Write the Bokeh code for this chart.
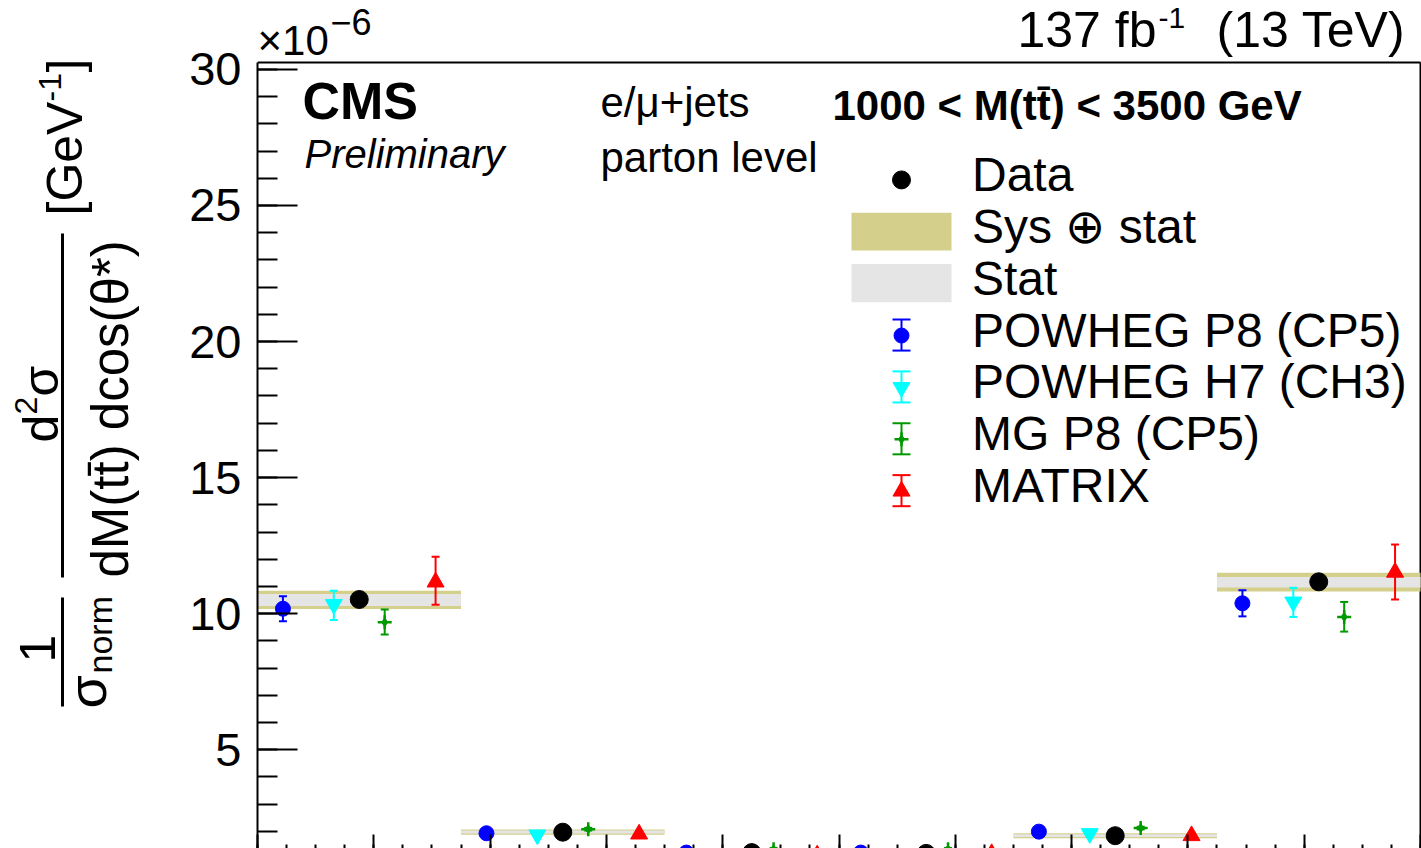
import numpy as np
from bokeh.plotting import figure
from bokeh.models import Range1d, SingleIntervalTicker, Label, CustomJSTickFormatter
from bokeh.layouts import row
from bokeh.embed import file_html
from bokeh.resources import INLINE
from bokeh.core.properties import value

FONT = "Liberation Sans"

# ---------------- data ----------------
bin_edges = [-1.0, -0.65, -0.3, 0.0, 0.3, 0.65, 1.0]

data_val = [10.52, 1.97, 1.22, 1.19, 1.84, 11.17]
sys_lo = [10.17, 1.88, 1.14, 1.12, 1.75, 10.81]
sys_hi = [10.84, 2.07, 1.28, 1.26, 1.93, 11.50]
stat_lo = [10.28, 1.92, 1.17, 1.15, 1.79, 10.96]
stat_hi = [10.72, 2.03, 1.26, 1.23, 1.89, 11.35]

powheg_p8 = [10.18, 1.93, 1.22, 1.22, 1.99, 10.38]
powheg_p8_lo = [9.72, 1.88, 1.17, 1.17, 1.94, 9.90]
powheg_p8_hi = [10.64, 1.98, 1.27, 1.27, 2.04, 10.86]

powheg_h7 = [10.34, 1.87, 1.15, 1.16, 1.92, 10.43]
powheg_h7_lo = [9.77, 1.82, 1.10, 1.11, 1.87, 9.88]
powheg_h7_hi = [10.84, 1.92, 1.20, 1.21, 1.97, 10.95]

mg_p8 = [9.68, 2.08, 1.34, 1.34, 2.12, 9.88]
mg_p8_lo = [9.23, 2.03, 1.29, 1.29, 2.07, 9.34]
mg_p8_hi = [10.15, 2.13, 1.39, 1.39, 2.17, 10.43]

matrix = [11.16, 1.90, 1.13, 1.18, 1.84, 11.52]
matrix_lo = [10.33, 1.84, 1.08, 1.13, 1.78, 10.52]
matrix_hi = [12.09, 1.96, 1.18, 1.23, 1.90, 12.54]

legend_labels = ["Data", "Sys \u2295 stat", "Stat", "POWHEG P8 (CP5)",
                 "POWHEG H7 (CH3)", "MG P8 (CP5)", "MATRIX"]

y_tick_interval = 5
y_frame_top = 30.25

# ---------------- styling / layout ----------------
GOLD = "#d4cf8a"
GREY = "#e5e5e5"
BLUE = "#0000ff"
CYAN = "#00ffff"
GREEN = "#009a00"
RED = "#ff0000"

W, H = 1421, 848
LEFT_W = 158
FRAME_L = 257
H_AX = 2            # height taken by the (label-less) bottom axis panel
PX_PER_X = 581.5    # pixels per unit of cos(theta*)
PX_PER_Y = 27.15    # pixels per 1e-6
Y10_PX = 611.7      # pixel row of y = 10


def X(px):
    return -1 + (px - FRAME_L) / PX_PER_X


def Y(py):
    return 10 + (Y10_PX - py) / PX_PER_Y


X_START, X_END = X(FRAME_L), X(W)
Y_START, Y_END = Y(H - H_AX), Y(0)

p = figure(width=W - LEFT_W, height=H, title=None,
           x_range=Range1d(X_START, X_END), y_range=Range1d(Y_START, Y_END),
           output_backend="svg", toolbar_location=None,
           min_border_left=FRAME_L - LEFT_W, min_border_right=0,
           min_border_top=0, min_border_bottom=0)
p.xgrid.visible = False
p.ygrid.visible = False
p.outline_line_color = None
p.background_fill_color = "white"
p.border_fill_color = "white"

xa = p.xaxis[0]
xa.ticker = SingleIntervalTicker(interval=0.2, num_minor_ticks=4)
xa.formatter = CustomJSTickFormatter(code="return ''")
xa.major_label_text_font_size = "1px"
xa.major_label_standoff = 0
xa.major_tick_in = 14
xa.major_tick_out = 0
xa.minor_tick_in = 4
xa.minor_tick_out = 0
xa.axis_line_color = None
xa.major_tick_line_width = 2
xa.minor_tick_line_width = 2

ya = p.yaxis[0]
ya.ticker = SingleIntervalTicker(interval=y_tick_interval, num_minor_ticks=5)
ya.bounds = (Y_START, y_frame_top)
ya.major_label_text_font = FONT
ya.major_label_text_font_size = "47px"
ya.major_label_text_color = "black"
ya.major_label_standoff = 16
ya.major_tick_in = 40
ya.major_tick_out = 0
ya.minor_tick_in = 20
ya.minor_tick_out = 0
ya.axis_line_width = 2
ya.major_tick_line_width = 2
ya.minor_tick_line_width = 2

# top and right frame lines
p.segment(x0=[-1, 1], y0=[y_frame_top, Y_START], x1=[1, 1], y1=[y_frame_top, y_frame_top],
          line_color="black", line_width=2)

bin_lo = bin_edges[:-1]
bin_hi = bin_edges[1:]

# bands
p.quad(left=bin_lo, right=bin_hi, bottom=sys_lo, top=sys_hi,
       fill_color=GOLD, line_color=None)
p.quad(left=bin_lo, right=bin_hi, bottom=stat_lo, top=stat_hi,
       fill_color=GREY, line_color=None)


def draw_marker(xs, ys, color, marker, size):
    if marker == "star4":
        p.scatter(x=xs, y=ys, marker="cross", size=size, line_color=color, line_width=2.5)
        p.scatter(x=xs, y=ys, marker="diamond", size=9, fill_color=color, line_color=color)
    else:
        p.scatter(x=xs, y=ys, marker=marker, size=size, fill_color=color, line_color=color)


def draw_model(vals, lo, hi, frac, color, marker, size):
    xs = [a + frac * (b - a) for a, b in zip(bin_lo, bin_hi)]
    p.segment(x0=xs, y0=lo, x1=xs, y1=hi, line_color=color, line_width=2)
    p.scatter(x=xs, y=lo, marker="dash", size=8, line_color=color, line_width=2)
    p.scatter(x=xs, y=hi, marker="dash", size=8, line_color=color, line_width=2)
    draw_marker(xs, vals, color, marker, size)


models = [
    (powheg_p8, powheg_p8_lo, powheg_p8_hi, 1 / 8, BLUE, "circle", 15),
    (powheg_h7, powheg_h7_lo, powheg_h7_hi, 3 / 8, CYAN, "inverted_triangle", 17),
    (mg_p8, mg_p8_lo, mg_p8_hi, 5 / 8, GREEN, "star4", 14),
    (matrix, matrix_lo, matrix_hi, 7 / 8, RED, "triangle", 17),
]
for m in models:
    draw_model(*m)

centers = [(a + b) / 2 for a, b in zip(bin_lo, bin_hi)]
p.scatter(x=centers, y=data_val, marker="circle", size=18,
          fill_color="black", line_color="black")


# ---------------- texts (anchored at their vertical middle) ----------------
def lab(text, px, py, size, style="normal", align="left"):
    p.add_layout(Label(x=X(px), y=Y(py), text=text, text_font=FONT,
                       text_font_size=f"{size}px", text_font_style=style,
                       text_align=align, text_baseline="middle",
                       text_color="black"))


lab("\u00d710", 257, 40, 42)
lab("\u22126", 330, 21, 36)
lab("137 fb", 1017, 29, 50)
lab("-1", 1158, 17, 30)
lab("(13 TeV)", 1405, 29, 50, align="right")
lab("CMS", 302, 100, 52, style="bold")
lab("Preliminary", 304, 153, 40, style="italic")
lab("e/\u03bc+jets", 600, 102, 42)
lab("parton level", 600, 157, 42)
lab("1000 < M(tt\u0304) < 3500 GeV", 832, 105, 42, style="bold")

# ---------------- legend ----------------
LX = 901
text_mid = [173.5 + 51.75 * i for i in range(7)]
for t, c in zip(legend_labels, text_mid):
    lab(t, 971.5, c, 48)

marker_y = [c + 5.5 for c in text_mid]
p.scatter(x=[X(LX)], y=[Y(marker_y[0])], marker="circle", size=18,
          fill_color="black", line_color="black")
p.quad(left=[X(851)], right=[X(951)], top=[Y(211.7)], bottom=[Y(249.3)],
       fill_color=GOLD, line_color=None)
p.quad(left=[X(851)], right=[X(951)], top=[Y(263)], bottom=[Y(301)],
       fill_color=GREY, line_color=None)

for m, cy in zip(models, marker_y[3:]):
    color, marker, size = m[4], m[5], m[6]
    x0 = X(LX)
    p.segment(x0=[x0], y0=[Y(cy - 16)], x1=[x0], y1=[Y(cy + 15)],
              line_color=color, line_width=2)
    p.scatter(x=[x0, x0], y=[Y(cy - 16), Y(cy + 15)], marker="dash", size=18,
              line_color=color, line_width=2)
    draw_marker([x0], [Y(cy)], color, marker, size)

# ---------------- y-axis title (left strip, page pixel coords) ----------------
lp = figure(width=LEFT_W, height=H, title=None, x_range=Range1d(0, LEFT_W),
            y_range=Range1d(H, 0), output_backend="svg", toolbar_location=None,
            min_border=0)
lp.axis.visible = False
lp.xgrid.visible = False
lp.ygrid.visible = False
lp.outline_line_color = None
lp.background_fill_color = "white"
lp.border_fill_color = "white"

title_parts = [
    ("1", 37, 648, 50, "center"),
    ("\u03c3", 86, 708, 54, "left"),
    ("norm", 99, 673, 34, "left"),
    ("d", 40, 442, 50, "left"),
    ("2", 25, 414, 32, "left"),
    ("\u03c3", 40, 396, 50, "left"),
    ("dM(tt\u0304) dcos(\u03b8*)", 110, 577, 51, "left"),
    ("[GeV", 64, 215, 50, "left"),
    ("-1", 49, 101, 32, "left"),
    ("]", 64, 72, 50, "left"),
]
for t, x, y, s, al in title_parts:
    lp.text(x=[x], y=[y], text=[t], angle=np.pi / 2, text_font=value(FONT),
            text_font_size=value(f"{s}px"), text_align=al,
            text_baseline="middle", text_color="black")
lp.segment(x0=[62, 62], y0=[597, 233], x1=[62, 62], y1=[706, 577],
           line_color="black", line_width=3)

layout = row(lp, p)
open("out.html", "w").write(file_html(layout, INLINE))
